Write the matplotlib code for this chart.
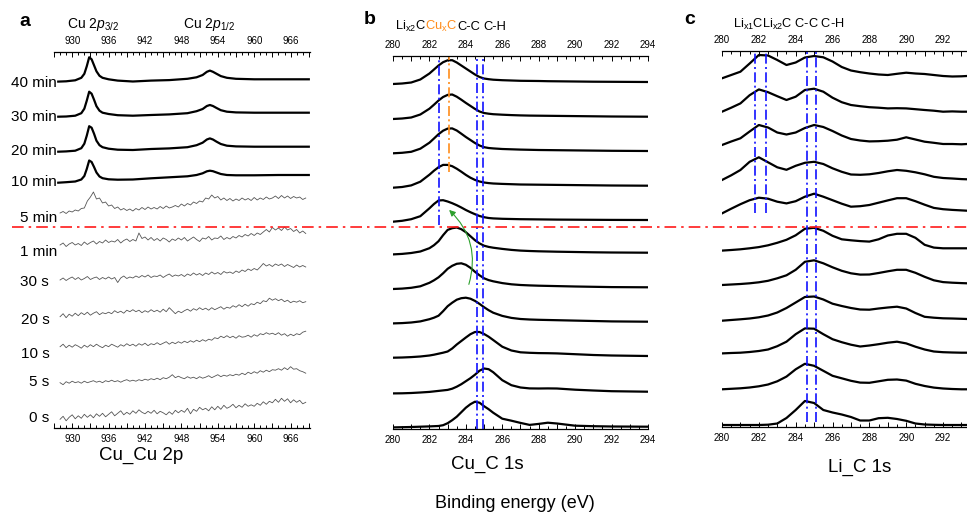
import numpy as np
import matplotlib
matplotlib.use("Agg")
import matplotlib.pyplot as plt
from matplotlib.lines import Line2D
from matplotlib.ticker import MultipleLocator, FuncFormatter

plt.rcParams['font.family'] = ['Liberation Sans', 'DejaVu Sans']
plt.rcParams['mathtext.fontset'] = 'custom'
plt.rcParams['mathtext.rm'] = 'Liberation Sans'
plt.rcParams['mathtext.it'] = 'Liberation Sans:italic'

W, H = 967, 515

# ---------------- panel a : Cu 2p ----------------
a_labels = ['40 min', '30 min', '20 min', '10 min', '5 min',
            '1 min', '30 s', '20 s', '10 s', '5 s', '0 s']

a_energy_smooth = [927.7, 929, 930.5, 931.5, 932, 932.4, 932.8, 933.2, 933.6, 934,
                   934.5, 935, 936, 937.5, 940, 943, 946, 949, 950.5, 951.5,
                   952.2, 952.7, 953.2, 953.8, 954.5, 955.5, 957, 960, 964, 969]
a_smooth = [
    [-2.3, -2, -1, 1.5, 5.5, 13, 22, 20, 14, 8, 3.5, 1.5, 0, -1.3, -2.2, -1.3, -0.8, 0.5,
     2, 4.3, 7.5, 8.7, 7.5, 5.5, 3.2, 1.5, 0.5, 0, 0, 0],
    [-4, -3.8, -3, -0.5, 4, 12, 21, 19, 13, 6.5, 2, 0, -1.3, -2.5, -3, -2.3, -1.7, -0.5,
     1.5, 3.7, 6.7, 7.7, 6.7, 4.7, 2.5, 1, 0.3, 0, 0, 0],
    [-5, -4.7, -4, -1.5, 3, 11, 20.5, 19, 13, 6, 1.5, -0.5, -2, -3, -3.3, -2.3, -1.7, -0.5,
     1.5, 4, 7.2, 8.3, 7.2, 5, 2.7, 1, 0.3, 0, 0, 0],
    [-7.7, -7.2, -6.5, -4.5, -1, 6, 14.5, 13, 8, 2.5, -1.5, -3.2, -4.3, -4.7, -4.5, -3.3,
     -2.3, -1.3, 0, 1.7, 3.7, 4.3, 3.8, 2.5, 1, 0, -0.3, -0.3, 0, 0],
]

# noisy scans, 0.5 eV steps starting at 928 eV
a_noisy_start, a_noisy_step = 928, 0.5
a_noisy = [
    [0, 1.5, -0.5, 2, 1, 3, 2, 4.5, 5, 12, 16, 21, 14, 15, 10, 11,
     7, 8, 4.5, 6, 3, 4.5, 2.5, 4, 2, 4.5, 3, 5.5, 3.5, 6, 4, 5.5,
     4, 6.5, 4.5, 7, 5, 6, 7.5, 6, 9, 7, 9.5, 8, 11, 9.5, 12, 11,
     15, 14, 18, 15, 16.5, 13, 15, 12.5, 14.5, 12, 14, 12.5, 15, 13, 14.5, 12.5,
     15.5, 13, 15, 13.5, 16, 14, 15, 17, 14.5, 17.5, 15, 17, 14.5, 16.5, 15, 16,
     13.5, 15],
    [0, 2, -1.5, 1, 2.5, 0, 1.5, -0.5, 3, 0.5, 2.5, 4, 1, 3.5, 2, 5,
     2.5, 4, 3, 5.5, 2, 4.5, 6, 3.5, 5.5, 4, 12, 6.5, 8, 5, 7.5, 4.5,
     6.5, 4, 7, 5.5, 3, 6, 4.5, 7, 5, 7.5, 4, 6, 8, 5.5, 3.5, 7,
     6, 8.5, 5, 7, 6.5, 9, 5.5, 7.5, 6, 8.5, 7, 9.5, 8, 10.5, 9, 11.5,
     9.5, 12, 10.5, 13, 15.5, 13, 17.5, 15, 17, 14.5, 18, 15, 16.5, 13.5, 15.5, 12,
     14, 11.5],
    [0, 2, -0.5, 1.5, 3, 0.5, 2.5, 0, 1.5, 3.5, 0.5, 2, 3, 0.5, 2.5, 1,
     3, 1, 2.5, -2.5, 2, 4, 1.5, 3, 2, 4, 2.5, 4.5, 3, 5, 2.5, 4,
     3.5, 5, 2.5, 4.5, 6, 3.5, 5, 4, 5.5, 3.5, 6, 4.5, 7, 5, 6.5, 4.5,
     7, 5.5, 8, 6, 7.5, 5.5, 8.5, 7, 8, 6.5, 9, 7.5, 10, 8.5, 11, 9.5,
     11.5, 10, 13, 16.5, 14, 15.5, 13.5, 16, 14.5, 16, 13.5, 15.5, 14, 12.5, 15, 13,
     14.5, 13],
    [0, 3, -1, 2.5, 0.5, 3.5, 1, 4, 2, 4.5, 1.5, 3.5, 5, 2, 4, 3,
     4.5, 3, 6, 4, 5.5, 3.5, 6.5, 5, 7, 5, 6.5, 4, 6, 4.5, 7, 5,
     6.5, 4.5, 7.5, 5, 9, 6, 3, 5.5, 4, 6, 7.5, 5.5, 8, 6.5, 9, 7,
     8.5, 6.5, 9, 7, 8.5, 10, 7.5, 9.5, 8.5, 11, 9.5, 12, 10, 12.5, 10.5, 13,
     12, 14.5, 13, 16, 15, 18.5, 16.5, 18, 16, 17.5, 15, 16.5, 14, 15.5, 14.5, 16,
     14, 15],
    [0, 2.5, -1, 1.5, -0.5, 2, 0.5, -1.5, 1.5, -0.5, 2, 0, 2.5, 0.5, -1, 1.5,
     0, 2.5, 1, -0.5, 2, 0.5, 3, 1, 2.5, 0.5, 3, 1.5, 3.5, 1, 3, 2,
     4, 2, 3.5, 5, 2.5, 4.5, 3, 5, 3.5, 5.5, 4, 6, 4.5, 6.5, 5, 7,
     5.5, 7.5, 6.5, 9, 8, 10.5, 9, 11, 9, 10.5, 8.5, 11, 9.5, 10, 11.5, 9.5,
     12, 10.5, 13, 12, 14, 12.5, 13.5, 12, 14, 11.5, 13, 10.5, 12.5, 11, 13, 12,
     14.5, 15.5],
    [0, -2, 1, -0.5, 1.5, 0, 1, -0.5, 1.5, 0, 1, 2, 0.5, 1.5, 0, 2,
     1, 2.5, 1, 2, 0.5, 2, 3, 1.5, 2.5, 1.5, 3, 2, 3.5, 2.5, 4, 3,
     4.5, 3, 5, 4, 5.5, 8, 5, 6.5, 5, 4, 6, 4.5, 5.5, 4, 6, 4.5,
     5.5, 7, 5, 6.5, 8, 6, 7.5, 6.5, 8, 7, 8.5, 7.5, 9.5, 8, 10.5, 9,
     11, 9.5, 12, 10.5, 12.5, 11, 13, 12.5, 14, 12.5, 15, 13, 16, 13.5, 14, 12,
     11, 9.5],
    [0, 3, -1.5, 2, 4.5, 0.5, 3.5, 1, 5, 2, 4.5, 1.5, 5.5, 3, 6, 2.5,
     5, 7.5, 3.5, 6, 8.5, 4.5, 7, 5, 8.5, 6, 9.5, 7, 5.5, 8, 6, 9,
     5.5, 8, 6.5, 4.5, 7.5, 5, 9, 6.5, 9, 7, 11, 5.5, 10, 8, 12, 9.5,
     11, 8.5, 12.5, 9.5, 13, 10, 14, 11, 12.5, 15, 11.5, 14, 12, 15.5, 13, 14.5,
     13, 16, 14, 17.5, 15, 18, 16.5, 20, 17, 21, 18, 20.5, 16.5, 19.5, 17, 19,
     15.5, 17],
]
a_offsets_smooth = [348.7, 315.3, 281.3, 253]
a_offsets_noisy = [215, 183, 148, 111.3, 81.3, 45.3, 8.7]
a_label_px = [(57, 83), (57, 117), (57, 151), (57, 182), (57, 218), (57, 252),
              (49, 282), (50, 320), (50, 354), (49, 382), (49, 418)]

# ---------------- panel b : Cu_C 1s ----------------
b_energy = [280, 280.5, 281, 281.5, 282, 282.25, 282.5, 282.75, 283, 283.25, 283.5,
            283.75, 284, 284.25, 284.5, 284.75, 285, 285.25, 285.5, 286, 286.5, 287,
            287.5, 288, 288.5, 289, 290, 291, 292, 294]
b_spectra = [
    [-2, -1.5, -0.5, 2.5, 8.5, 12.5, 16.5, 19.8, 21.7, 21.8, 19.5, 16.5, 13.5, 10.5, 7.5,
     5, 3.5, 2.8, 2.3, 1.8, 1.5, 1.2, 1.1, 1, 0.8, 0.7, 0.5, 0.3, 0.2, 0],
    [-2.3, -1.8, -0.8, 2.2, 8, 12, 16.2, 19.7, 21.8, 22.2, 20, 17, 13.8, 10.8, 7.8,
     5.2, 3.7, 3, 2.5, 2, 1.6, 1.3, 1.1, 1, 0.9, 0.8, 0.6, 0.4, 0.2, 0],
    [-2.3, -1.8, -0.8, 2.3, 8.3, 12.5, 16.8, 20.3, 22.4, 22.6, 20.5, 17.3, 14, 11, 8,
     5.5, 3.8, 3, 2.6, 2, 1.7, 1.4, 1.2, 1, 0.9, 0.8, 0.6, 0.4, 0.2, 0],
    [-2, -1.3, 0.3, 4, 11, 15, 18.5, 20.8, 20.8, 19.5, 17, 14, 10.8, 8, 5.8,
     4.2, 3.2, 2.6, 2.2, 1.8, 1.5, 1.2, 1.1, 1, 0.9, 0.8, 0.6, 0.4, 0.2, 0],
    [-1.7, -0.8, 0.8, 3.8, 11.7, 16, 19.5, 19.8, 18.5, 16.8, 14.8, 12.5, 10, 7.8, 5.8,
     4, 2.8, 2, 1.6, 1.2, 1, 0.8, 0.7, 0.6, 0.5, 0.4, 0.3, 0.2, 0.1, 0],
    [-1.7, -1.2, -0.3, 1.2, 4.5, 7.5, 11.5, 17.5, 22.8, 24.5, 25.2, 23.5, 20.5, 16.5, 12.5,
     9.3, 7, 5.8, 5, 3.8, 2.8, 2.1, 1.7, 1.4, 1.2, 1, 0.7, 0.4, 0.2, 0],
    [-1.7, -1.3, -0.5, 1, 4.5, 7, 10, 14, 18.5, 21.5, 23.5, 24, 22.5, 19.5, 15.5,
     12, 9, 7.2, 6, 4.2, 3, 2.3, 1.9, 1.6, 1.4, 1.2, 0.8, 0.5, 0.2, 0],
    [-1.7, -1.4, -0.8, 0.3, 2.5, 4, 6, 10.5, 15.5, 19, 22, 23.5, 24, 23, 20.8,
     17.8, 14.5, 11.5, 9, 5.8, 3.8, 2.7, 2.2, 1.9, 1.7, 1.5, 1.1, 0.7, 0.3, 0],
    [-1.7, -1.5, -1.1, -0.5, 0.5, 1.3, 2.3, 3.3, 4.5, 7.5, 11.5, 15, 18.5, 21.8, 24,
     24, 22, 19.3, 16, 9.3, 5.5, 3.7, 3.2, 2.9, 2.8, 2.6, 1.8, 1, 0.5, 0],
    [-1.7, -1.6, -1.3, -0.8, -0.2, 0.3, 0.8, 1.3, 1.8, 3, 5, 7.5, 10.5, 13.5, 17,
     21, 23.2, 22.5, 19.5, 11.5, 6.5, 4.2, 3.3, 3.2, 3.3, 3.2, 2, 1.2, 0.5, 0],
    [-0.7, -0.5, -0.3, 0, 0.3, 0.5, 0.7, 1.5, 3.5, 6.5, 10, 14.5, 19, 22.5, 25,
     24, 20.5, 17.5, 14, 8, 6, 3.8, 1.8, 2.8, 4, 3.2, 1, 0.5, 0.2, 0],
]
b_offsets = [347, 312.3, 278, 243.3, 209, 176.3, 141.7, 107.3, 73, 37.3, 2.3]
b_lines_short = [282.5]      # Li_x2C
b_line_cux = [283.1]         # Cu_xC
b_lines_full = [284.6, 284.95]  # C-C, C-H

# ---------------- panel c : Li_C 1s ----------------
c_energy = [280, 280.5, 281, 281.5, 282, 282.5, 283, 283.5, 284, 284.5, 285, 285.5,
            286, 286.5, 287, 287.5, 288, 288.5, 289, 289.5, 290, 290.5, 291, 291.5,
            292, 292.5, 293, 293.3]
c_spectra = [
    [-2.3, 1, 4.3, 12.5, 21, 20.5, 16, 11, 13.5, 18.5, 20, 18.7, 14.5, 9, 5.5, 3.8,
     2.5, 1.5, 1, 2.2, 3.3, 2.5, 2, 1, 0, -0.5, -0.3, 0],
    [0, 4, 8.3, 16.5, 22.3, 19.5, 15.5, 11.7, 15, 21.7, 23, 20, 14, 9.5, 6.7, 5.5,
     4.5, 4, 3.3, 3.5, 3.3, 2.5, 1.7, 1, 0, 0.3, 0, 0],
    [-1, 2.5, 5.7, 12.5, 19, 16.5, 11.5, 9.5, 11.5, 16, 19, 17, 13, 8.5, 5, 3.5,
     2.6, 2.8, 3.3, 4.3, 6.7, 4.5, 2.3, 1.2, 0, 0, -0.3, 0],
    [-0.7, 4, 9.3, 17.5, 22, 17, 12, 9.5, 13.5, 16.5, 17.5, 15.3, 11, 7.5, 4.8, 4.5,
     5, 6.3, 8, 9.3, 8.5, 7, 5, 2.5, 1.3, 0.8, 0.2, 0],
    [-2.7, 2, 6.5, 10.5, 13, 12, 9, 7.3, 9.5, 14, 17, 14, 10.5, 7, 4, 4.5,
     5.7, 8, 10.3, 12.5, 12.5, 9.5, 6, 2.8, 1.5, 0.8, 0.3, 0],
    [-2.3, -1.7, -1, 0, 1.2, 3, 5.5, 8.5, 13, 19.5, 20.5, 17.5, 12.5, 9, 8, 7.2,
     6.7, 9, 12.8, 14.5, 14.5, 10.5, 3.5, 0.7, 0, 0, 0, 0],
    [-1.7, -1.2, -0.7, 0, 1, 2.5, 5, 8, 13.5, 21.5, 23, 20, 16, 12.5, 10, 8.7,
     8.8, 10.3, 12, 13.5, 13.5, 10.5, 6.5, 3, 1.2, 0.6, 0.2, 0],
    [-1.7, -1, -0.3, 0.5, 1.7, 3.5, 6.5, 11, 16.5, 22, 22.5, 19.5, 15.3, 13, 11, 9.5,
     9.3, 10.5, 11.5, 12.3, 10.5, 6, 2.2, 1.3, 0.7, 0.5, 0.2, 0],
    [-0.7, -0.3, 0, 0.7, 1.7, 3.2, 6.5, 11, 18.5, 24.3, 24, 18.5, 13.5, 10.5, 8, 6.2,
     7.2, 8.5, 10, 11, 9.3, 6, 3.2, 1.2, 0.5, 0.2, 0, 0],
    [0, 0.5, 1, 1.8, 3, 4.8, 8, 12.7, 20, 25.5, 23.5, 18.5, 13.5, 11, 8.5, 6.7,
     6.5, 8, 9.5, 9.8, 8.7, 5.5, 3.3, 1.7, 0.8, 0.3, 0, 0],
    [0, 0, 0, 0, 0, 0.3, 1.5, 7, 15, 24, 22, 15, 12.5, 10.5, 8, 4.5,
     4.5, 6.8, 7.2, 6, 4.2, 1.5, 0.5, 0.2, 0, 0, 0, 0],
]
c_offsets = [351, 315.3, 283, 247.7, 216.3, 178.7, 143.7, 108, 74.3, 37.7, 2]
c_lines_short = [281.8, 282.4]   # Li_x1C, Li_x2C
c_lines_full = [284.6, 285.1]    # C-C, C-H


def px_box(left, top, right, bottom):
    return [left / W, 1 - bottom / H, (right - left) / W, (bottom - top) / H]


def style_axis(ax, major, minor, label_every, ymax):
    for s in ['left', 'right']:
        ax.spines[s].set_visible(False)
    for s in ['top', 'bottom']:
        ax.spines[s].set_linewidth(0.9)
    ax.set_yticks([])
    ax.set_ylim(0, ymax)
    ax.xaxis.set_major_locator(MultipleLocator(major))
    ax.xaxis.set_minor_locator(MultipleLocator(minor))
    start, step = label_every

    def fmt(v, p):
        k = (v - start) / step
        return '%d' % round(v) if abs(k - round(k)) < 1e-6 else ''
    ax.xaxis.set_major_formatter(FuncFormatter(fmt))
    ax.tick_params(axis='x', which='both', direction='in', top=True, bottom=True,
                   labeltop=True, labelbottom=True, labelsize=7, pad=4, width=0.7)
    ax.tick_params(axis='x', which='major', length=3.5)
    ax.tick_params(axis='x', which='minor', length=2)


fig = plt.figure(figsize=(W / 100, H / 100), dpi=100)

# panel a
ax_a = fig.add_axes(px_box(54, 52, 310, 428))
ax_a.set_xlim(927, 969.2)
style_axis(ax_a, 3, 1, (930, 6), 376)
for y, off in zip(a_smooth, a_offsets_smooth):
    ax_a.plot(a_energy_smooth, np.array(y) + off, color='black', lw=1.6)
for y, off in zip(a_noisy, a_offsets_noisy):
    x = a_noisy_start + a_noisy_step * np.arange(len(y))
    ax_a.plot(x, np.array(y) + off, color='#555555', lw=0.6)
for lab, (px, py) in zip(a_labels, a_label_px):
    fig.text(px / W, 1 - py / H, lab, ha='right', va='center', fontsize=11)

# panel b
ax_b = fig.add_axes(px_box(393, 56, 648, 429))
ax_b.set_xlim(280, 294)
style_axis(ax_b, 1, 0.5, (280, 2), 373)
for y, off in zip(b_spectra, b_offsets):
    ax_b.plot(b_energy, np.array(y) + off, color='black', lw=1.6)
dd = (0, (6, 2, 1.2, 2))
ax_b.vlines(b_lines_short, 204, 373, colors='#1010ff', linestyles=[dd], lw=1.2)
ax_b.vlines(b_line_cux, 257, 373, colors='#ff8c1a', linestyles=[dd], lw=1.2)
ax_b.vlines(b_lines_full, 0, 373, colors='#1010ff', linestyles=[dd], lw=1.2)
ax_b.annotate('', xy=(282.97, 221), xytext=(284.12, 142),
              arrowprops=dict(arrowstyle='-|>', color='#2ca02c', lw=0.8,
                              mutation_scale=9, connectionstyle='arc3,rad=0.32'))

# panel c
ax_c = fig.add_axes(px_box(722, 51, 967, 427))
ax_c.set_xlim(280, 293.3)
style_axis(ax_c, 1, 0.5, (280, 2), 376)
for y, off in zip(c_spectra, c_offsets):
    ax_c.plot(c_energy, np.array(y) + off, color='black', lw=1.6)
ax_c.vlines(c_lines_short, 214, 376, colors='#1010ff', linestyles=[dd], lw=1.2)
ax_c.vlines(c_lines_full, 5, 376, colors='#1010ff', linestyles=[dd], lw=1.2)

# red separator across the figure
fig.add_artist(Line2D([12 / W, 1.0], [1 - 227 / H, 1 - 227 / H], color='#ff1a1a',
                      lw=1.2, ls=(0, (7, 3, 1.5, 3)), transform=fig.transFigure))


# headers
def ftext(x, y, s, **kw):
    fig.text(x / W, 1 - y / H, s, **kw)


ftext(25, 22, 'a', fontsize=14, fontweight='bold', ha='center', va='center')
ftext(370, 20, 'b', fontsize=14, fontweight='bold', ha='center', va='center')
ftext(690, 20, 'c', fontsize=14, fontweight='bold', ha='center', va='center')

ftext(67, 28, r'Cu 2$\it{p}_{\it{3/2}}$', fontsize=10, va='baseline')
ftext(183, 28, r'Cu 2$\it{p}_{\it{1/2}}$', fontsize=10, va='baseline')

ftext(395, 30, r'Li$_{\rm x2}$C', fontsize=9.3, va='baseline')
ftext(425, 30, r'Cu$_{\rm x}$C', fontsize=9.3, va='baseline', color='#ff8c1a')
ftext(457, 30, 'C-C', fontsize=9.3, va='baseline')
ftext(483, 30, 'C-H', fontsize=9.3, va='baseline')

ftext(733, 28, r'Li$_{\rm x1}$CLi$_{\rm x2}$C C-C C-H', fontsize=9.2, va='baseline')

ftext(141, 455, 'Cu_Cu 2p', fontsize=13.5, ha='center', va='center')
ftext(487, 464, 'Cu_C 1s', fontsize=13.5, ha='center', va='center')
ftext(860, 467, 'Li_C 1s', fontsize=13.5, ha='center', va='center')
ftext(515, 503, 'Binding energy (eV)', fontsize=13, ha='center', va='center')

fig.savefig('out.png', dpi=100)
